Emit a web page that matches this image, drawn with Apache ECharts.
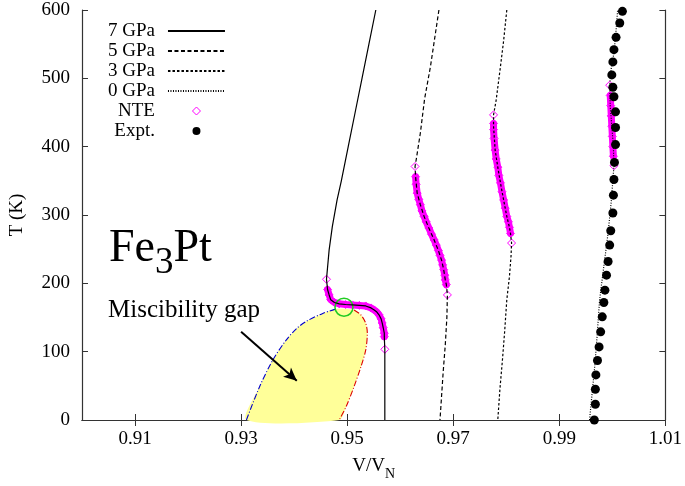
<!DOCTYPE html>
<html><head><meta charset="utf-8">
<script src="https://cdn.jsdelivr.net/npm/echarts@6/dist/echarts.min.js"></script>
<style>html,body{margin:0;padding:0;background:#fff}#c{width:685px;height:486px}</style>
</head><body><div id="c"></div>
<script>
// ---------- data ----------
const xTicks = [0.91, 0.93, 0.95, 0.97, 0.99, 1.01];
const yTicks = [0, 100, 200, 300, 400, 500, 600];

// [V/VN, T]
const p7 = [[0.9554,600],[0.9541,550],[0.9528,500],[0.9515,450],[0.9502,400],[0.9489,350],[0.9481,322],[0.9472,283],[0.9466,249],[0.9461,206],[0.9463,191],[0.9466,183],[0.9469,176],[0.9476,172],[0.9485,170],[0.9497,169],[0.9510,168.4],[0.9523,167.7],[0.9535,166.9],[0.9545,164],[0.9551,161],[0.9556,158],[0.9560,154],[0.9564,148],[0.9566,142],[0.9568,135],[0.9570,127],[0.9570,122],[0.9571,103],[0.9571,54],[0.9571,0]];
const p5 = [[0.9673,600],[0.9657,517],[0.9646,470],[0.9638,420],[0.9631,385],[0.9628,371],[0.9629,356],[0.9632,332],[0.9638,315],[0.9645,298],[0.9654,281],[0.9664,263.5],[0.9672,248],[0.9678,234],[0.9682,220],[0.9685,205],[0.9687,198],[0.9689,183],[0.9688,150],[0.9685,110],[0.9681,70],[0.9678,35],[0.9675,0]];
const p3 = [[0.9801,600],[0.9795,555],[0.9789,517],[0.9781,468.5],[0.9776,446.5],[0.9776,430],[0.9779,395],[0.9784,370],[0.9789,347],[0.9795,322],[0.9801,298],[0.9806,282],[0.9808,273],[0.9810,259],[0.9809,240],[0.9806,210],[0.9801,176],[0.9797,130],[0.9793,90],[0.9788,45],[0.9784,0]];
const p0 = [[0.9957,0],[0.9962,40],[0.9967,80],[0.9971,120],[0.9976,176],[0.9984,225],[0.9992,274],[0.9998,320],[1.0003,372],[1.0002,400],[0.9999,430],[0.9996,460],[0.9995,490],[0.9998,515],[1.0003,537],[1.0007,570],[1.0010,600]];

// NTE points
const nte7 = [[0.9461,206],[0.9463,191],[0.9466,183],[0.9469,176],[0.9476,172],[0.9485,170],[0.9497,169],[0.9510,168.4],[0.9523,167.7],[0.9535,166.9],[0.9545,164],[0.9551,161],[0.9556,158],[0.9560,154],[0.9564,148],[0.9566,142],[0.9568,135],[0.9570,127],[0.9570,122],[0.9571,103.5]];
const nte5 = [[0.9628,371],[0.9629,356],[0.9630,345],[0.9632,332],[0.9635,323],[0.9638,315],[0.9641,306],[0.9645,298],[0.9649,290],[0.9654,281],[0.9659,272],[0.9664,263.5],[0.9668,256],[0.9672,248],[0.9675,241],[0.9678,234],[0.9680,227],[0.9682,220],[0.9684,212],[0.9685,205],[0.9687,198],[0.9689,183]];
const nte3 = [[0.9776,446.5],[0.9776,434],[0.9776,425],[0.9777,412],[0.9779,395],[0.9781,382],[0.9784,370],[0.9786,358],[0.9789,347],[0.9792,334],[0.9795,322],[0.9798,310],[0.9801,298],[0.9804,290],[0.9806,282],[0.9808,273],[0.9810,259]];
const nte0 = [[1.0003,372],[1.0002,386],[1.0001,400],[1.0000,415],[0.9999,430],[0.9998,445],[0.9997,460],[0.9996,475],[0.9995,490]];

// experiment
const expt = [[0.9966,0],[0.9968,23],[0.9968,45],[0.9969,66],[0.9972,87],[0.9975,107],[0.9978,129],[0.9981,151],[0.9984,172],[0.9986,190],[0.9989,212],[0.9992,232],[0.9995,256],[0.9997,277],[1.0001,303],[1.0002,329],[1.0003,352],[1.0004,377],[1.0006,403],[1.0006,428],[1.0006,451],[1.0003,473],[1.0001,487],[0.9999,505],[1.0001,524],[1.0003,542],[1.0007,560],[1.0014,581],[1.0019,598]];

// miscibility gap boundaries
const gapLeft = [[0.9310,0],[0.9335,49],[0.9360,88],[0.9385,117],[0.9405,134],[0.9422,144],[0.9454,156],[0.9479,162.5]];
const gapRight = [[0.9513,161],[0.9526,153.7],[0.9535,141.5],[0.9538,127],[0.9535,102.5],[0.9526,78],[0.9513,49],[0.9498,19.5],[0.9485,0]];
const critPoint = [[0.9494,165]];
const arrowFrom = [0.9300,129];
const arrowTo = [0.9405,57.5];

// ---------- chart ----------
const FONT = 'Liberation Serif';
const chart = echarts.init(document.getElementById('c'), null, {renderer:'canvas'});
const baseAxis = {
  type:'value', min:0.90, max:1.01,
  axisLine:{show:true, lineStyle:{color:'#333', width:1.2}},
  splitLine:{show:false}
};
const inner = (d) => d.slice(1, d.length - 1);
function band(d){
  return {type:'line', data:inner(d), symbol:'none', silent:true, z:2,
    lineStyle:{color:'#ff00ff', width:7, cap:'round', join:'round'}};
}
function curve(name, d, dash){
  return {type:'line', name, data:d, symbol:'none', silent:true, z:5,
    itemStyle:{color:'rgba(0,0,0,0)', borderColor:'rgba(0,0,0,0)'},
    lineStyle:{color:'#000', width:1.2, type:dash}};
}
const hiddenDot = {color:'rgba(0,0,0,0)', borderColor:'rgba(0,0,0,0)', borderWidth:0};
chart.setOption({
  animation:false,
  backgroundColor:'#fff',
  grid:{left:82, right:18, top:10, bottom:66, containLabel:false},
  xAxis:[
    Object.assign({}, baseAxis, {
      position:'bottom',
      axisTick:{show:true, inside:true, length:6, customValues:xTicks, lineStyle:{color:'#333'}},
      axisLabel:{show:true, customValues:xTicks, formatter:v=>v.toFixed(2), fontFamily:FONT, fontSize:19, color:'#000', margin:10},
      name:'{a|V/V}{b|N}', nameLocation:'middle', nameGap:31,
      nameTextStyle:{rich:{a:{fontFamily:FONT, fontSize:19, color:'#000', lineHeight:30}, b:{fontFamily:FONT, fontSize:14, color:'#000', lineHeight:14, verticalAlign:'bottom'}}}
    }),
    Object.assign({}, baseAxis, {
      position:'top',
      axisTick:{show:true, inside:true, length:6, customValues:xTicks, lineStyle:{color:'#333'}},
      axisLabel:{show:false}
    })
  ],
  yAxis:[
    {type:'value', min:0, max:600, interval:100, position:'left',
     axisLine:{show:true, lineStyle:{color:'#333', width:1.2}},
     axisTick:{show:true, inside:true, length:6, lineStyle:{color:'#333'}},
     axisLabel:{fontFamily:FONT, fontSize:19, color:'#000', margin:12},
     splitLine:{show:false},
     name:'T (K)', nameLocation:'middle', nameGap:55,
     nameTextStyle:{fontFamily:FONT, fontSize:19, color:'#000'}},
    {type:'value', min:0, max:600, interval:100, position:'right',
     axisLine:{show:true, lineStyle:{color:'#333', width:1.2}},
     axisTick:{show:true, inside:true, length:6, lineStyle:{color:'#333'}},
     axisLabel:{show:false}, splitLine:{show:false}}
  ],
  legend:{
    orient:'vertical', align:'right', left:108, top:21, padding:0, itemGap:0,
    itemWidth:57, itemHeight:8, selectedMode:false, symbolKeepAspect:true,
    textStyle:{fontFamily:FONT, fontSize:19, color:'#000', lineHeight:20, padding:[0,8,0,0]},
    data:[
      {name:'7 GPa', itemStyle:hiddenDot},
      {name:'5 GPa', itemStyle:hiddenDot},
      {name:'3 GPa', itemStyle:hiddenDot},
      {name:'0 GPa', itemStyle:hiddenDot},
      {name:'NTE', icon:'path://M5,0L10,5L5,10L0,5Z', itemStyle:{color:'rgba(0,0,0,0)', borderColor:'#ff00ff', borderWidth:1, opacity:1}},
      {name:'Expt.', icon:'circle', itemStyle:{color:'#000', opacity:1}}]
  },
  series:[
    {type:'custom', silent:true, z:1, data:[[0.94,80]],
     renderItem:(params, api)=>{
       const pts = gapLeft.concat(gapRight).map(p=>api.coord(p));
       return {type:'polygon', shape:{points:pts, smooth:0.25}, style:{fill:'#ffff99', stroke:null}};
     }},
    {type:'line', data:gapLeft, symbol:'none', silent:true, z:3, smooth:0.3,
     lineStyle:{color:'#0000cc', width:1.1, type:[6,2,1,2]}},
    {type:'line', data:gapRight, symbol:'none', silent:true, z:3, smooth:0.3,
     lineStyle:{color:'#dd0000', width:1.1, type:[6,2,1,2]}},
    {type:'scatter', data:critPoint, symbol:'circle', symbolSize:18, silent:true, z:4,
     itemStyle:{color:'rgba(0,0,0,0)', borderColor:'#22cc22', borderWidth:1.5, opacity:1}},
    band(nte7), band(nte5), band(nte3), band(nte0),
    {type:'scatter', name:'NTE', data:[].concat(nte7, nte5, nte3, nte0), symbol:'diamond', symbolSize:8, silent:true, z:3,
     itemStyle:{color:'rgba(0,0,0,0)', borderColor:'#ff00ff', borderWidth:1, opacity:1}},
    curve('7 GPa', p7, 'solid'),
    curve('5 GPa', p5, [4,2.5]),
    curve('3 GPa', p3, [2.5,2]),
    curve('0 GPa', p0, [1,1.5]),
    {type:'scatter', name:'Expt.', data:expt, symbol:'circle', symbolSize:9, silent:true, z:6,
     itemStyle:{color:'#000', opacity:1}},
    {type:'line', data:[], silent:true, z:7,
     markLine:{silent:true, symbol:['none','arrow'], symbolSize:[9,13], label:{show:false},
       lineStyle:{color:'#000', width:2, type:'solid'},
       data:[[{coord:arrowFrom}, {coord:arrowTo}]]}}
  ],
  graphic:[
    {type:'text', left:109, top:226, silent:true,
     style:{text:'{a|Fe}{b|3}{a|Pt}', rich:{
       a:{fontFamily:FONT, fontSize:46, color:'#000', lineHeight:66},
       b:{fontFamily:FONT, fontSize:37, color:'#000', lineHeight:37, verticalAlign:'bottom'}}}},
    {type:'text', left:108, top:298, silent:true,
     style:{text:'Miscibility gap', fontFamily:FONT, fontSize:25, fill:'#000'}}
  ]
});
</script></body></html>
